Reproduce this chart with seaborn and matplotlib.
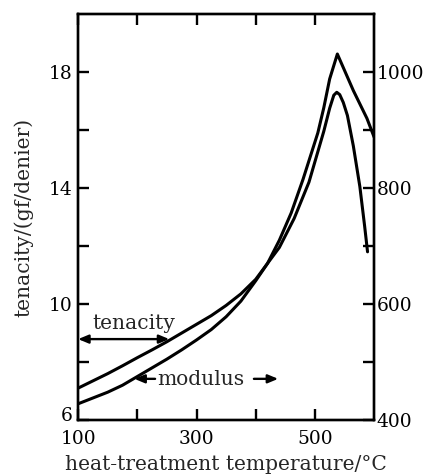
import matplotlib
matplotlib.use('Agg')
import matplotlib.pyplot as plt
import matplotlib.transforms as mtransforms
import seaborn as sns

# ================================================================
# Data
# ================================================================
# tenacity (gf/denier), left axis
ten_temp = [100, 125, 150, 175, 200, 225, 250, 275, 300, 325, 350, 375, 400,
            420, 440, 465, 490, 515, 525, 532, 537, 542, 548, 555, 565, 576, 584, 589]
tenacity = [7.1, 7.35, 7.6, 7.87, 8.15, 8.42, 8.7, 9.0, 9.3, 9.6, 9.95, 10.35, 10.85,
            11.4, 11.95, 12.95, 14.2, 15.95, 16.75, 17.2, 17.3, 17.22, 16.95, 16.5, 15.45, 14.05, 12.7, 11.8]

# modulus (gf/denier), right axis
mod_temp = [100, 125, 150, 175, 200, 225, 250, 275, 300, 325, 350, 375, 400,
            420, 440, 460, 480, 505, 515, 525, 538, 550, 565, 588, 600]
modulus = [428, 438, 448, 460, 475, 490, 505, 521, 538, 556, 578, 605, 640,
           670, 710, 757, 815, 895, 938, 988, 1031, 1003, 968, 920, 888]

x_ticks = [100, 300, 500]
x_minor = [200, 400]
left_ticks = [6, 10, 14, 18]
left_minor = [8, 12, 16]
right_ticks = [400, 600, 800, 1000]
right_minor = [500, 700, 900]

# ================================================================
# Style
# ================================================================
sns.set_style('ticks')
plt.rcParams['font.family'] = ['DejaVu Serif']
FS = 14.6      # axis labels / annotations
TS = 13.4      # tick labels

fig = plt.figure(figsize=(4.27, 4.76), dpi=100)
ax = fig.add_axes([0.183, 0.1176, 0.693, 0.853])
ax2 = ax.twinx()

sns.lineplot(x=ten_temp, y=tenacity, ax=ax, color='black', lw=2.2)
sns.lineplot(x=mod_temp, y=modulus, ax=ax2, color='black', lw=2.2)

ax.set_xlim(100, 600)
ax.set_ylim(6, 20)
ax2.set_ylim(400, 1100)

ax.set_xticks(x_ticks)
ax.set_xticks(x_minor, minor=True)
ax.set_yticks(left_ticks)
ax.set_yticks(left_minor, minor=True)
ax2.set_yticks(right_ticks)
ax2.set_yticks(right_minor, minor=True)

for a in (ax, ax2):
    for s in a.spines.values():
        s.set_linewidth(1.7)
        s.set_color('black')

ax.tick_params(which='both', direction='in', length=8, width=1.7,
               top=True, right=False, labelsize=TS, colors='black')
ax.tick_params(axis='x', which='both', pad=7)
ax.tick_params(axis='y', which='both', pad=4)
ax2.tick_params(which='both', direction='in', length=8, width=1.7,
                right=True, left=False, labelsize=TS, pad=2, colors='black')

ax.set_xlabel('heat-treatment temperature/°C', fontsize=FS, labelpad=5)
ax.set_ylabel('tenacity/(gf/denier)', fontsize=FS, labelpad=11)
ax2.set_ylabel('')

# lift the bottom "6" a little so it clears "100", as in the original
fig.canvas.draw()
lift = mtransforms.ScaledTranslation(0, 4 / 72, fig.dpi_scale_trans)
ylabs = ax.get_yticklabels()
ylabs[0].set_transform(ylabs[0].get_transform() + lift)

# ================================================================
# In-plot labels with arrows
# ================================================================
arrow_kw = dict(arrowstyle='-|>,head_length=0.6,head_width=0.25',
                color='black', lw=1.7, shrinkA=0, shrinkB=0)

ax.text(194, 9.34, 'tenacity', fontsize=FS, ha='center', va='center')
ax.annotate('', xy=(100, 8.79), xytext=(254, 8.79),
            arrowprops=dict(arrowstyle='<|-|>,head_length=0.6,head_width=0.25',
                            color='black', lw=1.7, shrinkA=0, shrinkB=0))

ax.text(308, 7.38, 'modulus', fontsize=FS, ha='center', va='center')
ax.annotate('', xy=(195, 7.42), xytext=(230, 7.42), arrowprops=arrow_kw)
ax.annotate('', xy=(438, 7.42), xytext=(397, 7.42), arrowprops=arrow_kw)

plt.savefig('out.png', dpi=100)
plt.close()
